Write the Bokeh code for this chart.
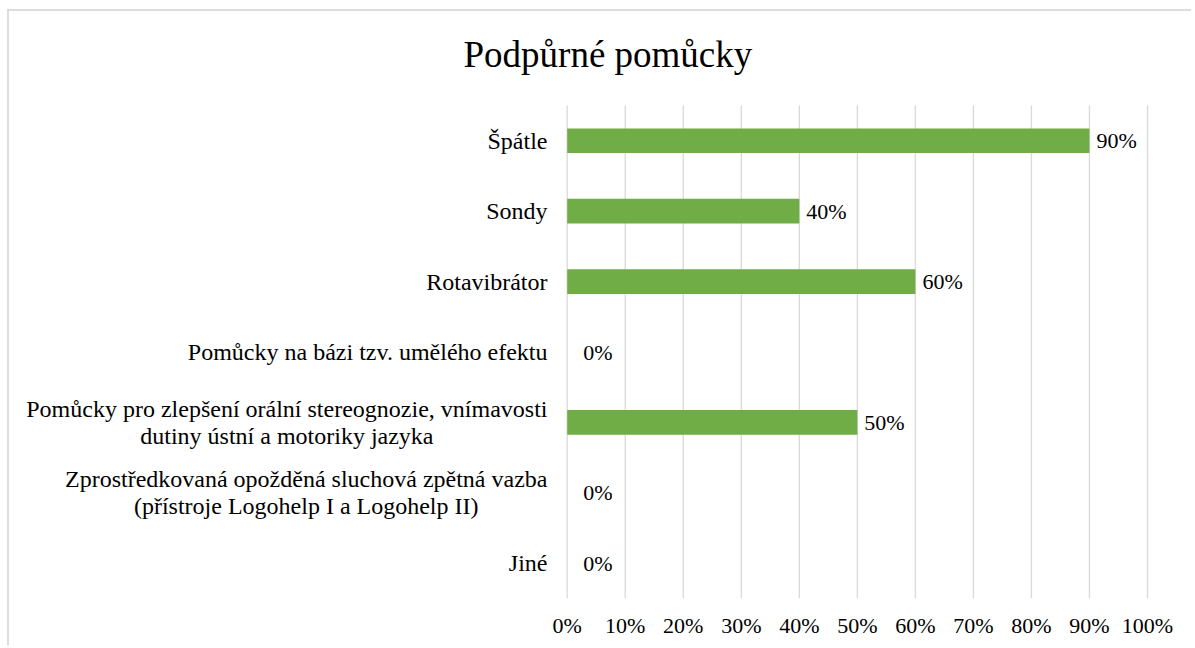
from bokeh.plotting import figure
from bokeh.models import Range1d, FixedTicker
from bokeh.core.properties import value
from bokeh.embed import file_html
from bokeh.resources import INLINE

# ---------------- data ----------------
title_text = "Podpůrné pomůcky"
categories = [
    "Špátle",
    "Sondy",
    "Rotavibrátor",
    "Pomůcky na bázi tzv. umělého efektu",
    "Pomůcky pro zlepšení orální stereognozie, vnímavosti\ndutiny ústní a motoriky jazyka",
    "Zprostředkovaná opožděná sluchová zpětná vazba\n(přístroje Logohelp I a Logohelp II)",
    "Jiné",
]
values = [90, 40, 60, 0, 50, 0, 0]
x_ticks = [0, 10, 20, 30, 40, 50, 60, 70, 80, 90, 100]
x_tick_labels = ["0%", "10%", "20%", "30%", "40%", "50%", "60%", "70%", "80%", "90%", "100%"]

# ---------------- layout / style ----------------
FONT = "Liberation Serif"
BAR_COLOR = "#70AD47"
GRID_COLOR = "#d9d9d9"
W, H = 1184, 636
ZERO_PX = 557.7        # canvas x of 0 %
PX_PER_UNIT = 5.803    # pixels per 1 %
PLOT_TOP = 94          # canvas y where the category area starts
FRAME_BOTTOM = 587
LABEL_RIGHT_PX = 538
TITLE_LEFT_PX = 454
TITLE_BASELINE_PX = 43
CAT_FONT_PX = 24
NUM_FONT_PX = 22
LINE_H = 27


# approximate Times advance widths (per 1000 em) to centre multi-line labels
_tw = {" ": 250, ",": 250, ".": 250, "(": 333, ")": 333, "%": 833,
       "a": 444, "b": 500, "c": 444, "d": 500, "e": 444, "f": 333, "g": 500, "h": 500,
       "i": 278, "j": 278, "k": 500, "l": 278, "m": 778, "n": 500, "o": 500, "p": 500,
       "r": 333, "s": 389, "t": 278, "u": 500, "v": 500, "y": 500, "z": 444,
       "á": 444, "é": 444, "í": 278, "ú": 500, "ů": 500, "ě": 444, "ř": 333, "š": 389,
       "ž": 444, "I": 333, "L": 611, "P": 556, "Z": 611}


def text_w(s, size):
    return sum(_tw.get(ch, 500) for ch in s) * size / 1000.0


def px_to_x(px):
    return (px - ZERO_PX) / PX_PER_UNIT


n_cat = len(categories)
px_per_cat = (FRAME_BOTTOM - PLOT_TOP) / n_cat
# category i (top first) is centred at n_cat - i - 0.5
y_pos = [n_cat - i - 0.5 for i in range(n_cat)]


def py_to_y(py):
    return (FRAME_BOTTOM - py) / px_per_cat


p = figure(
    width=W, height=H,
    x_range=Range1d(px_to_x(0), px_to_x(W)),
    y_range=Range1d(0, py_to_y(0)),
    y_axis_location=None,
    output_backend="svg", toolbar_location=None,
    min_border_left=0, min_border_right=0,
    min_border_top=0, min_border_bottom=H - FRAME_BOTTOM,
)
p.styles = {"margin-left": "7px", "margin-top": "9px",
            "border-top": "2px solid #dddddd", "border-left": "2px solid #dddddd"}
p.outline_line_color = None
p.background_fill_color = "white"
p.border_fill_color = "white"
p.xgrid.grid_line_color = None
p.ygrid.grid_line_color = None

# vertical gridlines over the category area
p.segment(x0=x_ticks, y0=[0] * len(x_ticks), x1=x_ticks, y1=[n_cat] * len(x_ticks),
          line_color=GRID_COLOR, line_width=1.3)

# title
p.text(x=[px_to_x(TITLE_LEFT_PX)], y=[py_to_y(TITLE_BASELINE_PX)], text=[title_text],
       text_align="left", text_baseline="alphabetic",
       text_font=value(FONT), text_font_size="37px", text_color="black")

# x axis
ax = p.xaxis[0]
ax.ticker = FixedTicker(ticks=x_ticks)
ax.major_label_overrides = {t: l for t, l in zip(x_ticks, x_tick_labels)}
ax.axis_line_color = None
ax.major_tick_line_color = None
ax.minor_tick_line_color = None
ax.major_tick_in = 0
ax.major_tick_out = 0
ax.major_label_standoff = 14
ax.major_label_text_font = FONT
ax.major_label_text_font_size = f"{NUM_FONT_PX}px"
ax.major_label_text_color = "black"

# bars
p.hbar(y=y_pos, left=0, right=values, height=0.35,
       fill_color=BAR_COLOR, line_color=None)

# data labels
p.text(x=values, y=y_pos, text=[f"{v}%" for v in values],
       x_offset=[7 if v > 0 else 16 for v in values],
       text_align="left", text_baseline="middle",
       text_font=value(FONT), text_font_size=f"{NUM_FONT_PX}px", text_color="black")

# category labels
lx, ly, lt, loff, lalign = [], [], [], [], []
for cat, yc in zip(categories, y_pos):
    lines = cat.split("\n")
    n = len(lines)
    if n == 1:
        lx.append(px_to_x(LABEL_RIGHT_PX)); ly.append(yc); lt.append(cat)
        loff.append(0); lalign.append("right")
    else:
        wmax = max(text_w(s, CAT_FONT_PX) for s in lines)
        cx = px_to_x(LABEL_RIGHT_PX - wmax / 2.0)
        for i, s in enumerate(lines):
            lx.append(cx); ly.append(yc); lt.append(s)
            loff.append((i - (n - 1) / 2.0) * LINE_H); lalign.append("center")

p.text(x=lx, y=ly, text=lt, y_offset=loff, text_align=lalign, text_baseline="middle",
       text_font=value(FONT), text_font_size=f"{CAT_FONT_PX}px", text_color="black")

open("out.html", "w").write(file_html(p, INLINE))
